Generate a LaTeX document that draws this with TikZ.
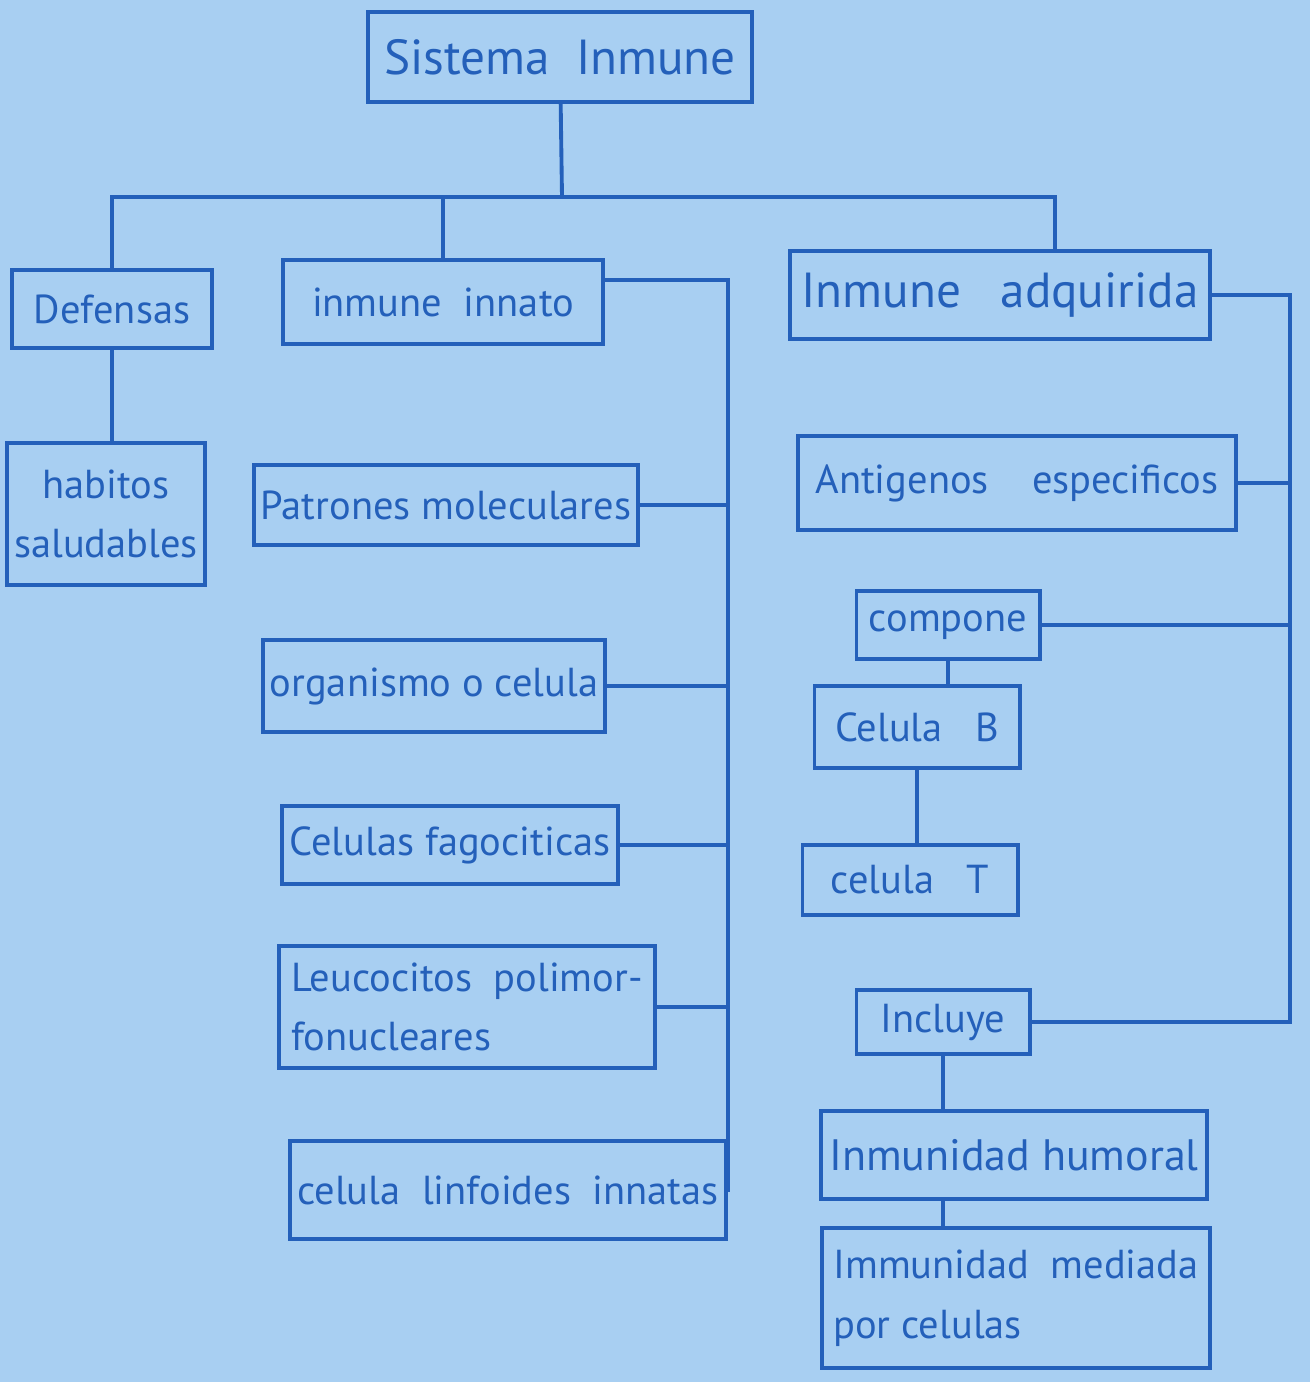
\documentclass[tikz,border=0pt]{standalone}
\usepackage{fontspec}
\setmainfont{PT Sans}
\usetikzlibrary{arrows.meta,calc,positioning}
\definecolor{paper}{RGB}{168,207,242}
\definecolor{ink}{RGB}{36,96,186}

\begin{document}
\begin{tikzpicture}[x=0.01cm, y=-0.01cm, line width=1.1pt, ink,
    box/.style={draw, font=\fontsize{11.5}{17}\selectfont, inner sep=2pt},
    big/.style={font=\fontsize{14}{17}\selectfont}]
  \fill[paper] (0,0) rectangle (1310,1382);
  \useasboundingbox (0,0) rectangle (1310,1382);
  \node[box, big, minimum width=3.84cm, minimum height=0.9cm] (sis) at (560,57) {Sistema \ Inmune};
  \node[box, minimum width=2.0cm, minimum height=0.78cm] (def) at (112,309) {Defensas};
  \node[box, minimum width=1.93cm, minimum height=1.42cm, align=center] (hab) at (106,514) {habitos\\saludables};
  \node[box, minimum width=3.2cm, minimum height=0.84cm] (inn) at (443,302) {inmune \ innato};
  \node[box, big, minimum width=4.2cm, minimum height=0.88cm] (adq) at (1000,295) {Inmune \ \ adquirida};
  % innato
  \node[box, minimum width=3.42cm, minimum height=0.8cm] (pat) at (446,505) {Patrones moleculares};
  \node[box, minimum width=3.32cm, minimum height=0.92cm] (org) at (434,686) {organismo o celula};
  \node[box, minimum width=3.35cm, minimum height=0.78cm] (fag) at (450,845) {Celulas fagociticas};
  \node[box, minimum width=3.75cm, minimum height=1.22cm, align=left] (leu) at (467,1007) {Leucocitos \ polimor-\\fonucleares\hspace{5.2em}};
  \node[box, minimum width=4.28cm, minimum height=0.98cm] (lin) at (508,1190) {celula \ linfoides \ innatas};
  % adquirida
  \node[box, minimum width=4.38cm, minimum height=0.94cm] (ant) at (1017,483) {Antigenos \ \ \ especificos};
  \node[box, minimum width=1.83cm, minimum height=0.68cm] (com) at (948,625) {compone};
  \node[box, minimum width=2.05cm, minimum height=0.82cm] (cb) at (917,727) {Celula \ \ B};
  \node[box, minimum width=2.15cm, minimum height=0.7cm] (ct) at (910,880) {celula \ \ T};
  \node[box, minimum width=1.73cm, minimum height=0.64cm] (inc) at (943,1022) {Incluye};
  \node[box, font=\fontsize{12.5}{17}\selectfont, minimum width=3.85cm, minimum height=0.88cm] (hum) at (1014,1155) {Inmunidad humoral};
  \node[box, minimum width=3.88cm, minimum height=1.4cm, align=left] (med) at (1016,1298) {Immunidad \ mediada\\por celulas\hspace{5.3em}};
  % buses
  \coordinate (split) at (562,197);
  \coordinate (busI) at (728,0);
  \coordinate (busA) at (1290,0);
  \draw (sis) -- (split);
  \draw (def.north) |- (split) -| ([xshift=0.55cm]adq.north);
  \draw (inn.north) -- (inn.north |- split);
  \draw (def.south) -- (def.south |- hab.north);
  \draw ([yshift=0.22cm]inn.east) -- ([yshift=0.22cm]inn.east -| busI) -- (lin.east -| busI) -- (lin.east);
  \foreach \n in {pat,org,fag,leu}
    \draw (\n.east) -- (\n.east -| busI);
  \draw (adq.east) -- (adq.east -| busA) -- (inc.east -| busA) -- (inc.east);
  \foreach \n in {ant,com}
    \draw (\n.east) -- (\n.east -| busA);
  \draw (com.south) -- (com.south |- cb.north);
  \draw (cb.south) -- (cb.south |- ct.north);
  \draw (inc.south) -- (inc.south |- hum.north);
  \draw (inc.south |- hum.south) -- (inc.south |- med.north);
\end{tikzpicture}
\end{document}
